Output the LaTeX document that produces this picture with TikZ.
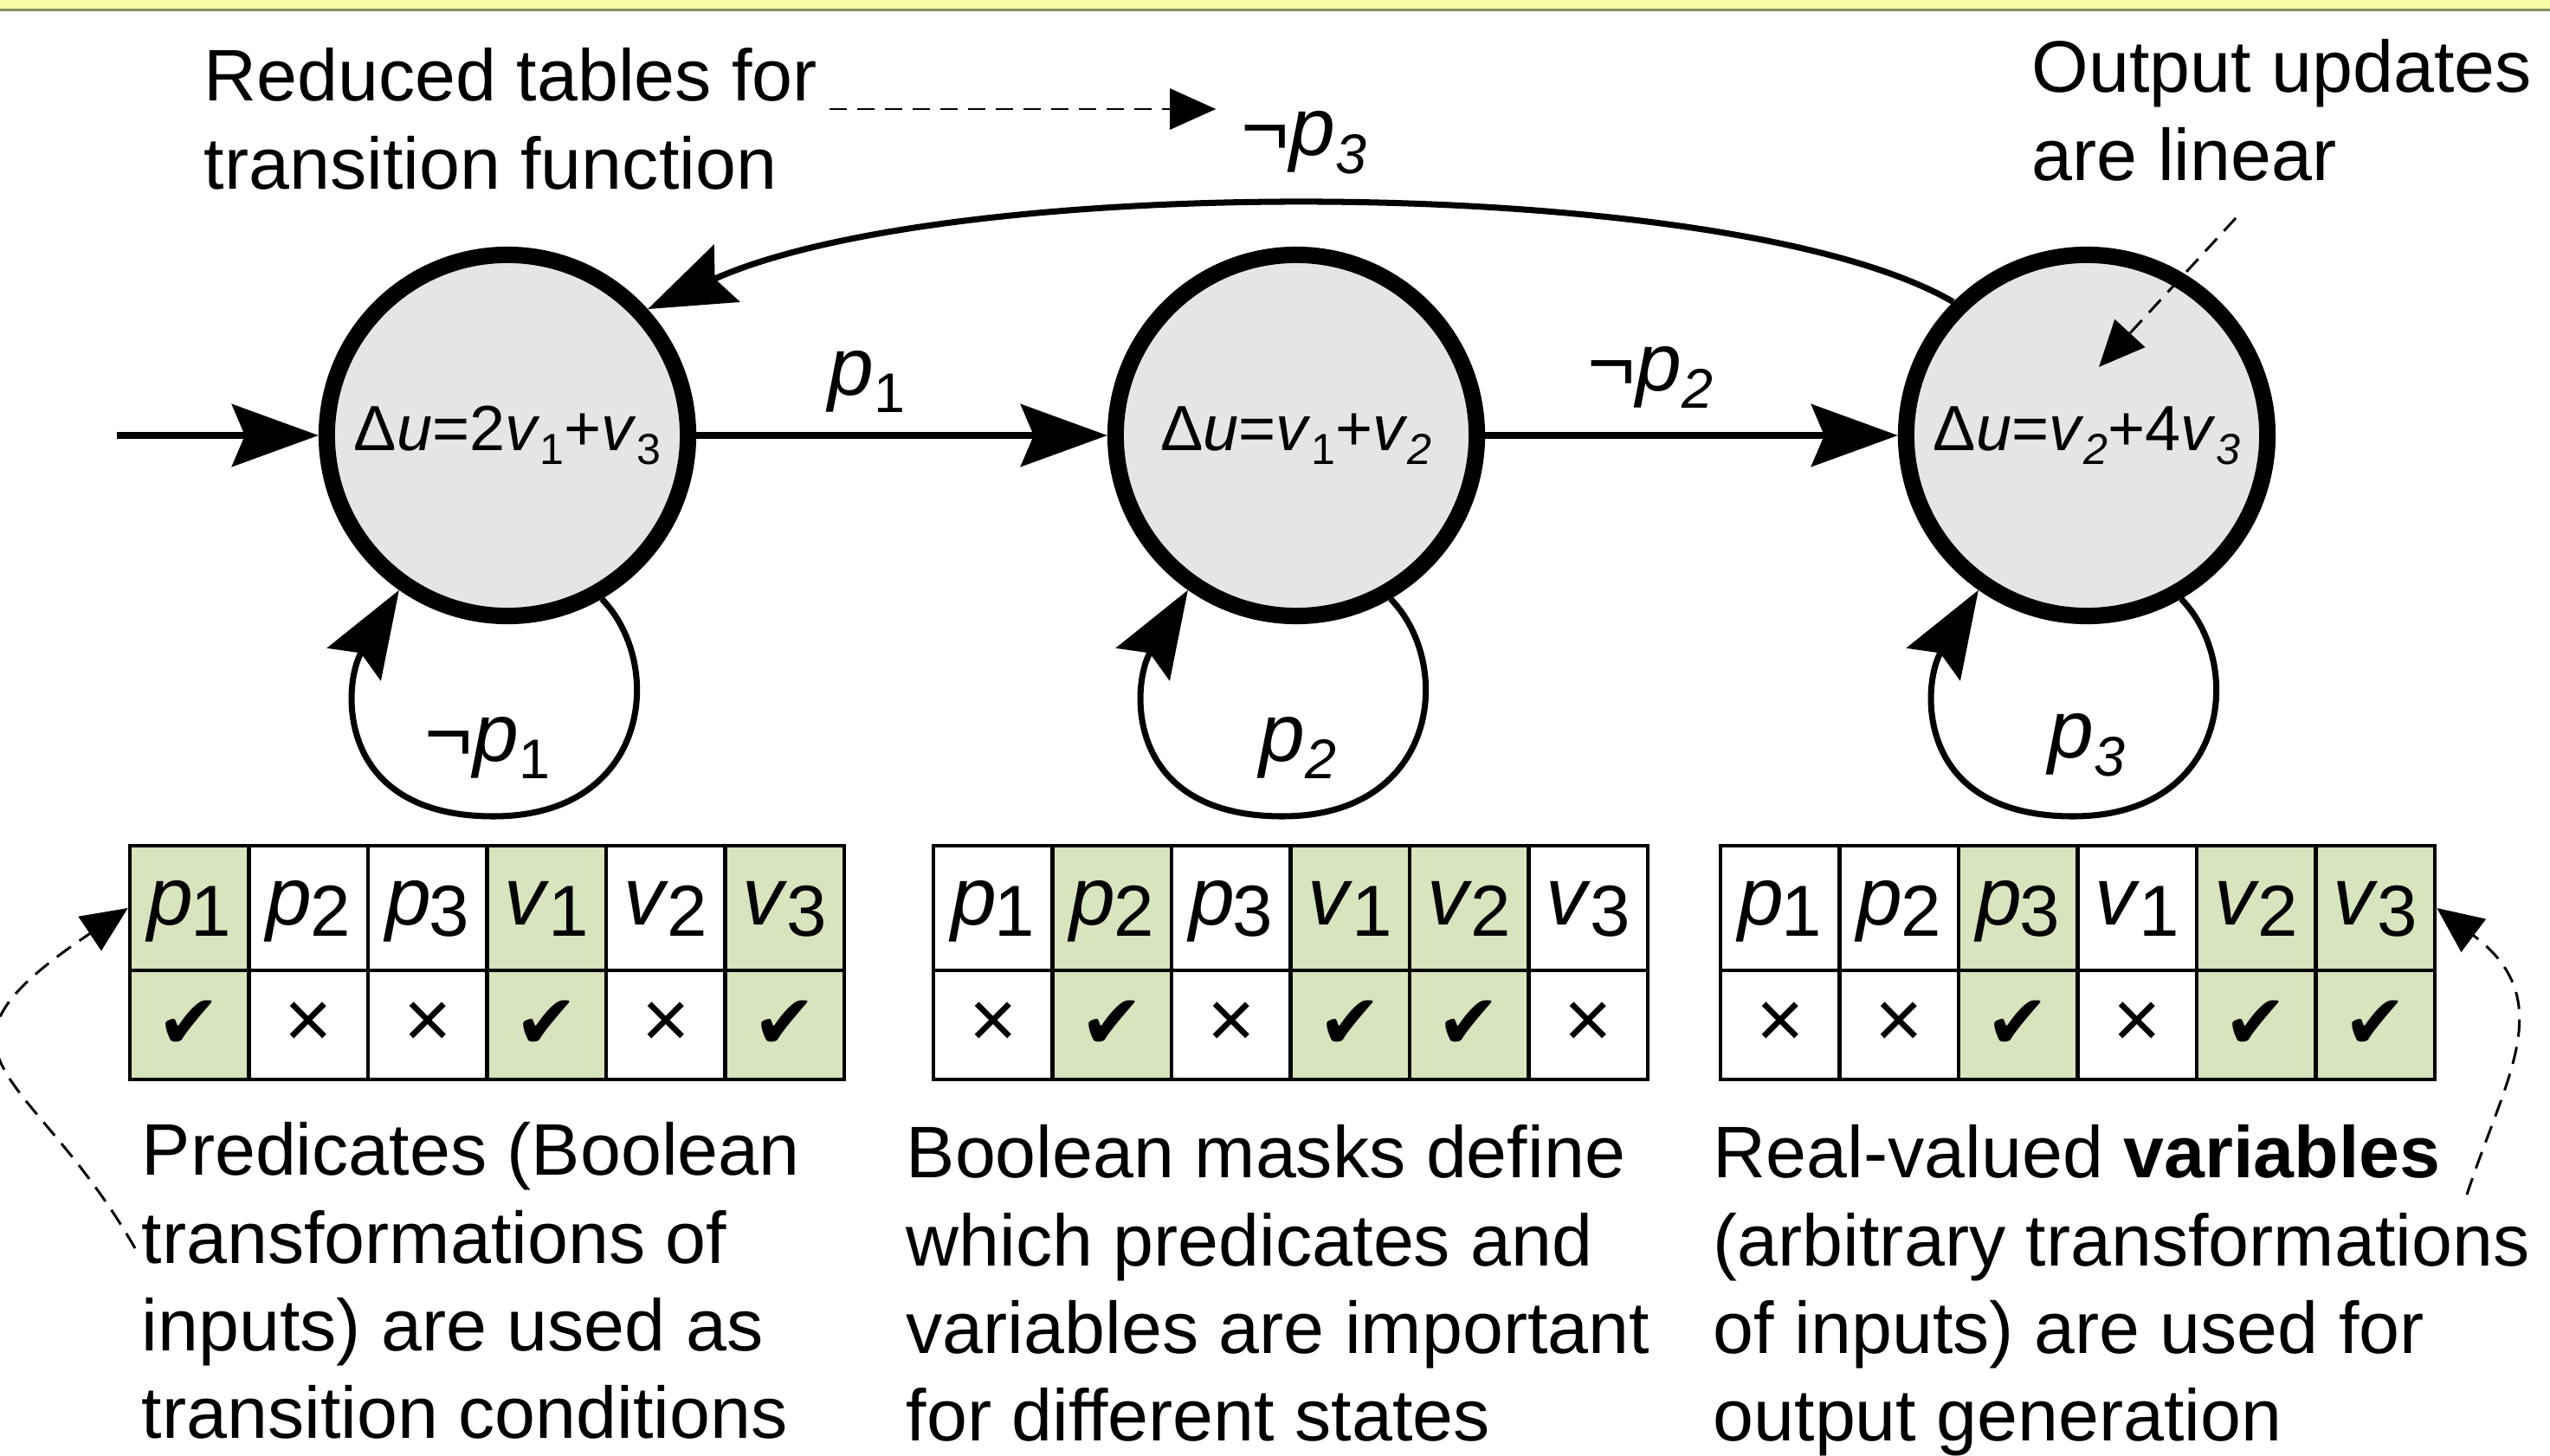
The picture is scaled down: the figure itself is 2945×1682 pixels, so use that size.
\documentclass[tikz,border=0pt]{standalone}
\usepackage{fontspec}
\usepackage{graphicx}
\setmainfont{Liberation Sans}
\newfontfamily\symfont{DejaVu Sans}
\usetikzlibrary{arrows.meta,calc}

\definecolor{bandfill}{HTML}{F8FBA4}
\definecolor{bandrule}{HTML}{8C8C64}
\definecolor{maskgreen}{HTML}{D7E4BD}
\definecolor{statefill}{HTML}{E5E5E5}

% subscripts: lowered, reduced digits (upright / italic), table variant
\newcommand{\usub}[1]{\raisebox{-0.22em}{\scalebox{0.68}{#1}}}
\newcommand{\isub}[1]{\raisebox{-0.22em}{\scalebox{0.68}{\itshape #1}}}
\newcommand{\tsub}[1]{\raisebox{-0.14em}{\scalebox{0.88}{#1}}}
\newcommand{\tv}[2]{\textit{#1}\kern-0.02em\tsub{#2}}
\newcommand{\markyes}{{\symfont\fontsize{25}{25}\selectfont ✔}}
\newcommand{\markno}{{\fontsize{27}{27}\selectfont ×}}

\tikzset{
  px/.style={x=0.01cm,y=-0.01cm},
  statenode/.style={circle, draw, line width=0.19cm, fill=statefill,
    minimum size=4.17cm, inner sep=0pt, font=\fontsize{21}{25}\selectfont},
  trans/.style={line width=2pt, -{Stealth[length=1cm,width=0.72cm,inset=0.15cm]}},
  translabel/.style={inner sep=0pt, font=\fontsize{27}{32}\selectfont},
  notetext/.style={inner sep=0pt, align=left, font=\fontsize{24}{28.8}\selectfont},
  guide/.style={line width=0.85pt, dash pattern=on 0.2cm off 0.12cm,
    -{Triangle[length=0.53cm,width=0.47cm]}},
  maskcell/.style={draw, line width=0.045cm, minimum width=1.375cm, inner sep=0pt},
  hcell/.style={maskcell, minimum height=1.44cm, text height=1.3em, text depth=0.22em,
    font=\fontsize{27}{30}\selectfont},
  mcell/.style={maskcell, minimum height=1.26cm},
  used/.style={fill=maskgreen},
  unused/.style={fill=white},
}

% mask table: #1 name, #2 left edge, #3 list of label/style/mark
\newcommand{\masktable}[3]{%
  \foreach \lab/\st/\mk [count=\i] in {#3} {
    \node[hcell,\st] (#1h\i) at ({#2+(\i-0.5)*137.5},1049) {\lab};
    \node[mcell,\st] (#1m\i) at ({#2+(\i-0.5)*137.5},1184) {\mk};
  }%
}

% self loop below a state
\newcommand{\selfloop}[1]{%
  \draw[trans] (#1.-60) .. controls +(74,76) and +(180,0) .. ($(#1)+(-16,440)$)
    .. controls +(-185,0) and +(-65,107) .. (#1.-125);%
}

\begin{document}
\begin{tikzpicture}[px]
\useasboundingbox (0,0) rectangle (2945,1682);

% title band
\fill[bandfill] (0,0) rectangle (2945,11);
\draw[bandrule, line width=0.03cm] (0,11.5) -- (2945,11.5);

% states
\node[statenode] (c1) at (586,503) {Δ\textit{u}=2\textit{v}\usub{1}+\textit{v}\usub{3}};
\node[statenode] (c2) at (1497,503) {Δ\textit{u}=\textit{v}\usub{1}+\textit{v}\isub{2}};
\node[statenode] (c3) at (2410,503) {Δ\textit{u}=\textit{v}\isub{2}+4\textit{v}\isub{3}};

% transitions
\coordinate (init) at (135,503);
\draw[trans] (init) -- (c1);
\draw[trans] (c1) -- (c2);
\draw[trans] (c2) -- (c3);
\draw[trans] (c3.135) .. controls (2000,200) and (1100,198) .. (c1.42);
\selfloop{c1}
\selfloop{c2}
\selfloop{c3}

\node[translabel] (lp1) at (1001,441) {\textit{p}\usub{1}};
\node[translabel] (lnp2) at (1906,436) {¬\textit{p}\isub{2}};
\node[translabel] (np3) at (1506,165) {¬\textit{p}\isub{3}};
\node[translabel] (lnp1) at ($(c1)+(-23,361)$) {¬\textit{p}\usub{1}};
\node[translabel] (lp2) at ($(c2)+(2,361)$) {\textit{p}\isub{2}};
\node[translabel] (lp3) at ($(c3)+(0,358)$) {\textit{p}\isub{3}};

% annotations at the top
\node[notetext, anchor=north west] (rt) at (235,55) {Reduced tables for\\transition function};
\node[notetext, anchor=north west] (ou) at (2346,45) {Output updates\\are linear};
\coordinate (rtarrow) at (958,126);
\draw[guide] (rtarrow) -- ([shift={(-29,-39)}]np3.west);
\coordinate (ouarrow) at (2582,252);
\coordinate (outtip) at ($(c3)+(14,-79)$);
\draw[guide] (ouarrow) -- (outtip);

% masks
\masktable{ta}{150}{{\tv{p}{1}}/used/\markyes, {\tv{p}{2}}/unused/\markno, {\tv{p}{3}}/unused/\markno,
  {\tv{v}{1}}/used/\markyes, {\tv{v}{2}}/unused/\markno, {\tv{v}{3}}/used/\markyes}
\masktable{tb}{1078}{{\tv{p}{1}}/unused/\markno, {\tv{p}{2}}/used/\markyes, {\tv{p}{3}}/unused/\markno,
  {\tv{v}{1}}/used/\markyes, {\tv{v}{2}}/used/\markyes, {\tv{v}{3}}/unused/\markno}
\masktable{tc}{1987}{{\tv{p}{1}}/unused/\markno, {\tv{p}{2}}/unused/\markno, {\tv{p}{3}}/used/\markyes,
  {\tv{v}{1}}/unused/\markno, {\tv{v}{2}}/used/\markyes, {\tv{v}{3}}/used/\markyes}

% captions
\node[notetext, anchor=north west] (capa) at (163,1296)
  {Predicates (Boolean\\transformations of\\inputs) are used as\\transition conditions};
\node[notetext, anchor=north west] (capb) at (1046,1299)
  {Boolean masks define\\which predicates and\\variables are important\\for different states};
\node[notetext, anchor=north west] (capc) at (1978,1299)
  {Real-valued \textbf{variables}\\(arbitrary transformations\\of inputs) are used for\\output generation};

\coordinate (predtail) at (156,1442);
\draw[guide] (predtail) .. controls (34,1229) and (-110,1222) .. (tah1.west);
\coordinate (vartail) at (2849,1380);
\draw[guide] (vartail) .. controls (2894,1243) and (2956,1155) .. (tch6.east);
\end{tikzpicture}
\end{document}
